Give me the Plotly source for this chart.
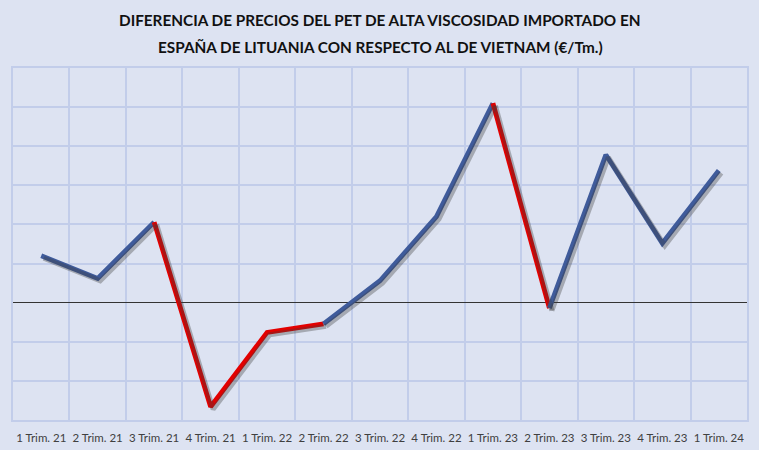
import plotly.graph_objects as go

# quarters and price difference (EUR/Tm), Lithuania minus Vietnam
quarters = ['1 Trim. 21', '2 Trim. 21', '3 Trim. 21', '4 Trim. 21', '1 Trim. 22',
            '2 Trim. 22', '3 Trim. 22', '4 Trim. 22', '1 Trim. 23', '2 Trim. 23',
            '3 Trim. 23', '4 Trim. 23', '1 Trim. 24']
diff = [60, 31, 103, -133, -38, -27, 28, 110, 255, -7, 189, 76, 169]

title_lines = ['DIFERENCIA DE PRECIOS DEL PET DE ALTA VISCOSIDAD IMPORTADO EN',
               'ESPAÑA DE LITUANIA CON RESPECTO AL DE VIETNAM (€/Tm.)']

BLUE = '#3f5b9b'
RED = '#e30000'
BG = '#dde3f2'
GRID = '#c2cdea'
FONT = 'Lato, sans-serif'

# a segment is red when it ends on a negative value
seg_red = [diff[i + 1] < 0 for i in range(len(diff) - 1)]
runs = []
start = 0
for i in range(1, len(seg_red)):
    if seg_red[i] != seg_red[start]:
        runs.append((start, i, seg_red[start]))
        start = i
runs.append((start, len(seg_red), seg_red[start]))

fig = go.Figure()

# shadows first, on an offset pair of axes
for a, b, red in runs:
    fig.add_trace(go.Scatter(
        x=quarters[a:b + 1], y=diff[a:b + 1], mode='lines',
        line=dict(color='rgba(60,60,60,0.35)', width=5),
        xaxis='x2', yaxis='y2', hoverinfo='skip', showlegend=False
    ))

for a, b, red in runs:
    fig.add_trace(go.Scatter(
        x=quarters[a:b + 1], y=diff[a:b + 1], mode='lines',
        line=dict(color=RED if red else BLUE, width=4.8),
        showlegend=False
    ))

xr = [-0.5, len(quarters) - 0.5]
yr = [-150, 300]
dx = 2.5 / 56.4
dy = 2.5 * 50 / 39.1

fig.update_layout(
    width=759, height=450,
    margin=dict(l=13, r=12, t=68, b=30, autoexpand=False),
    paper_bgcolor=BG, plot_bgcolor=BG,
    font=dict(family=FONT, color='#333333'),
    xaxis=dict(type='category', categoryorder='array', categoryarray=quarters,
               range=xr, tickson='boundaries', showgrid=True, gridcolor=GRID,
               gridwidth=1.5, ticks='', tickangle=0, automargin=False,
               ticklabelstandoff=6,
               tickfont=dict(family=FONT, size=11.5, color='#404040'),
               showline=True, linecolor=GRID, linewidth=1.5, mirror=True,
               fixedrange=True),
    yaxis=dict(range=yr, dtick=50, showgrid=True, gridcolor=GRID, gridwidth=1.5,
               showticklabels=False, zeroline=True, zerolinecolor='#333333',
               zerolinewidth=1.2, showline=True, linecolor=GRID, linewidth=1.5,
               mirror=True, automargin=False, fixedrange=True),
    xaxis2=dict(type='category', categoryorder='array', categoryarray=quarters,
                range=[xr[0] - dx, xr[1] - dx], overlaying='x', visible=False,
                fixedrange=True),
    yaxis2=dict(range=[yr[0] + dy, yr[1] + dy], overlaying='y', visible=False,
                fixedrange=True),
)

for k, line in enumerate(title_lines):
    fig.add_annotation(
        text='<b>%s</b>' % line, xref='paper', yref='paper',
        x=0.5, y=1 + (47.5 - 26 * k) / 352.0, yanchor='middle',
        showarrow=False, font=dict(family=FONT, size=15.3, color='#111111')
    )

fig.write_html('out.html', config={'displayModeBar': False},
               post_script="document.body.style.margin='0';")
